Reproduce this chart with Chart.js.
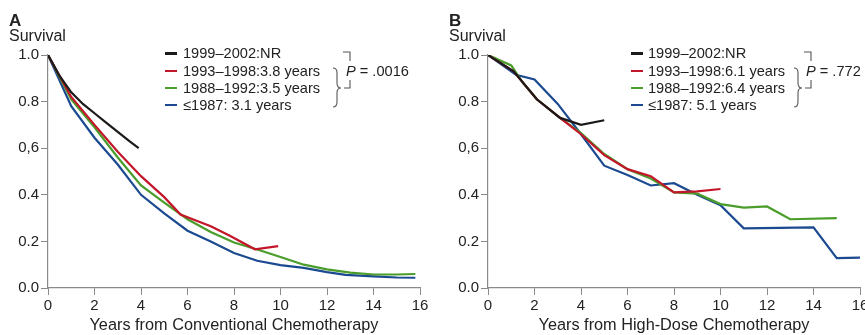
<!DOCTYPE html>
<html>
<head>
<meta charset="utf-8">
<script src="https://cdn.jsdelivr.net/npm/chart.js@4"></script>
<style>
  html, body { margin: 0; padding: 0; background: #fff; overflow: hidden; }
  body { width: 865px; height: 335px; position: relative; font-family: "Liberation Sans", Arial, sans-serif; color: #222; }
  .panel { position: absolute; top: 0; height: 335px; overflow: hidden; }
  .txt { position: absolute; white-space: nowrap; }
  .letter { font-weight: bold; font-size: 17px; line-height: 20px; }
  .ylab { font-size: 16px; line-height: 19px; }
  .leg { font-size: 14.6px; line-height: 17px; }
  .mark { position: absolute; width: 12px; height: 2.4px; }
  svg.brk { position: absolute; left: 0; top: 0; }
</style>
</head>
<body>
<div class="panel" style="left:0;width:432px"><canvas id="chartA" width="432" height="335"></canvas></div>
<div class="panel" style="left:440px;width:425px"><canvas id="chartB" width="432" height="335"></canvas></div>

<!-- panel A labels -->
<div class="txt letter" style="left:9px;top:11px">A</div>
<div class="txt ylab" style="left:9px;top:25.5px">Survival</div>
<div id="legA"></div>
<div class="txt leg" style="left:346px;top:62.5px"><i>P</i> = .0016</div>

<!-- panel B labels -->
<div class="txt letter" style="left:449px;top:11px">B</div>
<div class="txt ylab" style="left:449px;top:25.5px">Survival</div>
<div id="legB"></div>
<div class="txt leg" style="left:806px;top:62.5px"><i>P</i> = .772</div>

<svg class="brk" width="865" height="335">
  <g fill="none" stroke="#555" stroke-width="1.1">
    <path d="M343,52 H350 V61" />
    <path d="M350,80 V88 H344" />
    <path d="M333,68 Q337,68 337,73 V83 Q337,88 341,88 Q337,88 337,93 V102 Q337,107 333,107" />
    <path d="M804,52 H811 V61" />
    <path d="M811,80 V88 H805" />
    <path d="M794,68 Q798,68 798,73 V83 Q798,88 802,88 Q798,88 798,93 V102 Q798,107 794,107" />
  </g>
</svg>

<script>
// Series colours and legend entries
const seriesColors = ["#1a1a1a", "#c4162a", "#4a9d2a", "#1b4a91"];
const legendA = ["1999\u20132002:NR", "1993\u20131998:3.8 years", "1988\u20131992:3.5 years", "\u22641987: 3.1 years"];
const legendB = ["1999\u20132002:NR", "1993\u20131998:6.1 years", "1988\u20131992:6.4 years", "\u22641987: 5.1 years"];

// Axis ticks
const yTickLabels = ["0.0", "0.2", "0.4", "0,6", "0.8", "1.0"];
const xTitleA = "Years from Conventional Chemotherapy";
const xTitleB = "Years from High-Dose Chemotherapy";

// Panel A - conventional chemotherapy
const yearsA1999 = [0, 0.5, 1, 1.5, 2, 2.5, 3, 3.5, 3.9];
const survA1999 = [1.0, 0.91, 0.84, 0.79, 0.75, 0.71, 0.67, 0.63, 0.60];
const yearsA1993 = [0, 1, 2, 3, 4, 5, 5.7, 7, 7.8, 8.9, 9.9];
const survA1993 = [1.0, 0.82, 0.70, 0.585, 0.48, 0.39, 0.315, 0.265, 0.225, 0.166, 0.18];
const yearsA1988 = [0, 1, 2, 3, 4, 5, 6, 7, 8, 9, 10, 11, 12, 13, 14, 15, 15.8];
const survA1988 = [1.0, 0.81, 0.69, 0.56, 0.44, 0.366, 0.295, 0.24, 0.195, 0.165, 0.133, 0.10, 0.08, 0.066, 0.058, 0.058, 0.06];
const yearsA1987 = [0, 1, 2, 3, 4, 5, 6, 7, 8, 9, 10, 11, 12, 12.8, 14, 15, 15.8];
const survA1987 = [1.0, 0.78, 0.645, 0.53, 0.40, 0.32, 0.246, 0.20, 0.15, 0.117, 0.098, 0.086, 0.068, 0.056, 0.05, 0.045, 0.044];

// Panel B - high-dose chemotherapy
const yearsB1999 = [0, 1.1, 2.1, 3.1, 4, 5];
const survB1999 = [1.0, 0.93, 0.81, 0.73, 0.70, 0.72];
const yearsB1993 = [0, 1.1, 2.1, 3.1, 4, 5, 6, 7, 8, 9, 10];
const survB1993 = [1.0, 0.93, 0.81, 0.73, 0.66, 0.57, 0.51, 0.48, 0.41, 0.415, 0.425];
const yearsB1988 = [0, 1, 1.5, 2.1, 3.1, 4, 5, 6, 7, 8, 9, 10, 11, 12, 13, 15];
const survB1988 = [1.0, 0.955, 0.88, 0.81, 0.73, 0.665, 0.575, 0.51, 0.47, 0.41, 0.405, 0.36, 0.345, 0.35, 0.295, 0.30];
const yearsB1987 = [0, 1.2, 2, 3, 4, 5, 6, 7, 8, 9, 10, 11, 14, 15, 16];
const survB1987 = [1.0, 0.915, 0.895, 0.79, 0.66, 0.525, 0.485, 0.44, 0.45, 0.40, 0.355, 0.256, 0.26, 0.128, 0.13];

const toPoints = (xs, ys) => xs.map((x, i) => ({ x: x, y: ys[i] }));

function buildLegend(id, labels, markLeft, textLeft) {
  const holder = document.getElementById(id);
  const rowTops = [45, 62.5, 79.5, 96.5];
  labels.forEach((label, i) => {
    const mark = document.createElement("div");
    mark.className = "mark";
    mark.style.left = markLeft + "px";
    mark.style.top = (rowTops[i] + 7.3) + "px";
    mark.style.background = seriesColors[i];
    holder.appendChild(mark);
    const txt = document.createElement("div");
    txt.className = "txt leg";
    txt.style.left = textLeft + "px";
    txt.style.top = rowTops[i] + "px";
    txt.textContent = label;
    holder.appendChild(txt);
  });
}

buildLegend("legA", legendA, 165, 183);
buildLegend("legB", legendB, 631, 648);

function makeChart(canvasId, seriesList, xTitle, rightPad) {
  const axisColor = "#8a8a8a";
  return new Chart(document.getElementById(canvasId), {
    type: "line",
    data: {
      datasets: seriesList.map((pts, i) => ({
        data: pts,
        borderColor: seriesColors[i],
        borderWidth: 2.2,
        pointRadius: 0,
        tension: 0,
        fill: false,
      })),
    },
    options: {
      responsive: false,
      animation: false,
      events: [],
      layout: { padding: { left: 0, right: rightPad, top: 55, bottom: 0 } },
      plugins: { legend: { display: false }, tooltip: { enabled: false } },
      scales: {
        x: {
          type: "linear",
          min: 0,
          max: 16,
          afterFit: (s) => { s.height = 47; },
          border: { color: axisColor, width: 1.2 },
          grid: { drawOnChartArea: false, drawTicks: true, tickLength: 7, color: axisColor },
          ticks: { stepSize: 2, padding: 2, color: "#222", font: { family: "Liberation Sans", size: 15 } },
          title: {
            display: true,
            text: xTitle,
            color: "#222",
            padding: { top: 0, bottom: 0 },
            font: { family: "Liberation Sans", size: 16.3, lineHeight: 1.2 },
          },
        },
        y: {
          min: 0,
          max: 1,
          afterFit: (s) => { s.width = 48; },
          border: { color: axisColor, width: 1.2 },
          grid: { drawOnChartArea: false, drawTicks: true, tickLength: 7, color: axisColor },
          ticks: {
            stepSize: 0.2,
            padding: 2,
            color: "#222",
            font: { family: "Liberation Sans", size: 15 },
            callback: (v, i) => yTickLabels[i],
          },
        },
      },
    },
  });
}

makeChart("chartA", [
  toPoints(yearsA1999, survA1999),
  toPoints(yearsA1993, survA1993),
  toPoints(yearsA1988, survA1988),
  toPoints(yearsA1987, survA1987),
], xTitleA, 12);

makeChart("chartB", [
  toPoints(yearsB1999, survB1999),
  toPoints(yearsB1993, survB1993),
  toPoints(yearsB1988, survB1988),
  toPoints(yearsB1987, survB1987),
], xTitleB, 12);
</script>
</body>
</html>
